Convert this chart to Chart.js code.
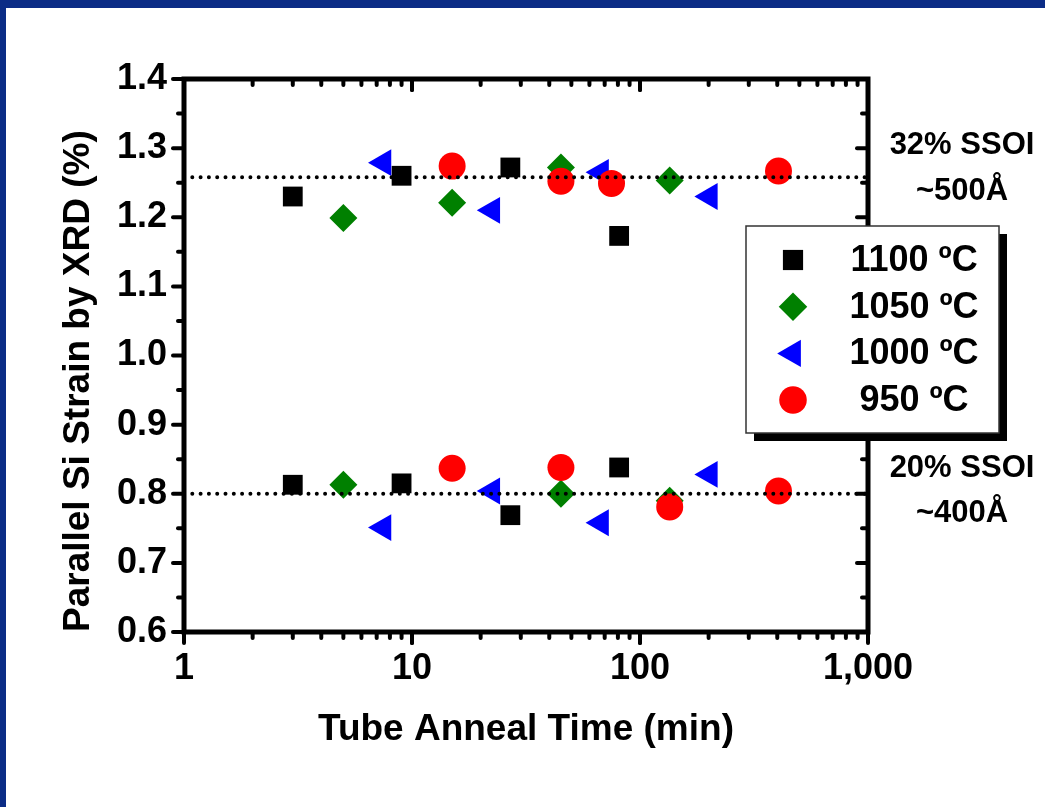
<!DOCTYPE html>
<html>
<head>
<meta charset="utf-8">
<script src="https://cdn.jsdelivr.net/npm/chart.js@4.4.1/dist/chart.umd.min.js"></script>
<style>
  html, body { margin: 0; padding: 0; background: #fff; }
  #wrap { position: relative; width: 1045px; height: 807px; overflow: hidden; background: #fff; }
  #wrap:before { content: ""; position: absolute; left: 0; top: 0; width: 1045px; height: 8px; background: #0b2c86; }
  #wrap:after { content: ""; position: absolute; left: 0; top: 0; width: 6px; height: 807px; background: #0b2c86; }
  canvas { position: absolute; left: 0; top: 0; }
</style>
</head>
<body>
<div id="wrap"><canvas id="chart" width="1045" height="807"></canvas></div>
<script>
/* DATA */
const seriesNames = ["1100 \u00BAC", "1050 \u00BAC", "1000 \u00BAC", "950 \u00BAC"];

const time1100   = [3, 9, 27, 81, 3, 9, 27, 81];
const strain1100 = [1.230, 1.260, 1.272, 1.173, 0.813, 0.815, 0.769, 0.838];

const time1050   = [5, 15, 45, 135, 5, 45, 135];
const strain1050 = [1.199, 1.221, 1.272, 1.253, 0.813, 0.800, 0.790];

const time1000   = [7.5, 22.5, 67.5, 202.5, 7.5, 22.5, 67.5, 202.5];
const strain1000 = [1.279, 1.210, 1.265, 1.230, 0.751, 0.804, 0.758, 0.828];

const time950    = [15, 45, 75, 405, 15, 45, 135, 405];
const strain950  = [1.274, 1.252, 1.249, 1.267, 0.837, 0.838, 0.781, 0.804];

const refStrain = [1.258, 0.80];
const refLabels = [["32% SSOI", "~500\u00C5"], ["20% SSOI", "~400\u00C5"]];

const xTicks = [1, 10, 100, 1000];
const yTicks = [0.6, 0.7, 0.8, 0.9, 1.0, 1.1, 1.2, 1.3, 1.4];

/* STYLE */
const FONT = '"Liberation Sans", Arial, Helvetica, sans-serif';
const markers = [
  { style: "rect",     color: "#000000", r: 14,   rot: 0 },
  { style: "rectRot",  color: "#008000", r: 14,   rot: 0 },
  { style: "triangle", color: "#0000ff", r: 15.5, rot: -90 },
  { style: "circle",   color: "#ff0000", r: 13.5, rot: 0 }
];

function pts(xs, ys){
  return xs.map((x, i) => ({ x: x, y: ys[i] }));
}

const seriesData = [
  pts(time1100, strain1100),
  pts(time1050, strain1050),
  pts(time1000, strain1000),
  pts(time950, strain950)
];

let datasets = [];

// dotted reference lines on top of the markers
refStrain.forEach(function(v){
  datasets.push({
    label: "ref",
    data: [{ x: xTicks[0], y: v }, { x: xTicks[xTicks.length - 1], y: v }],
    showLine: true,
    borderColor: "#000",
    borderWidth: 4,
    borderDash: [0, 8.3],
    borderCapStyle: "round",
    pointRadius: 0,
    order: 0
  });
});

seriesNames.forEach(function(name, i){
  const m = markers[i];
  datasets.push({
    label: name,
    data: seriesData[i],
    showLine: false,
    pointStyle: m.style,
    pointRadius: m.r,
    pointRotation: m.rot,
    pointBackgroundColor: m.color,
    pointBorderColor: m.color,
    pointBorderWidth: 0,
    order: 4 - i
  });
});

/* FRAME, TICKS, LEGEND, NOTES */
function drawMarker(ctx, m, x, y, r){
  ctx.fillStyle = m.color;
  ctx.beginPath();
  if (m.style === "rect") {
    const s = Math.SQRT1_2 * r;
    ctx.rect(x - s, y - s, 2 * s, 2 * s);
  } else if (m.style === "rectRot") {
    ctx.moveTo(x - r, y); ctx.lineTo(x, y - r); ctx.lineTo(x + r, y); ctx.lineTo(x, y + r);
  } else if (m.style === "triangle") {
    ctx.moveTo(x - r, y); ctx.lineTo(x + r / 2, y - r * 0.866); ctx.lineTo(x + r / 2, y + r * 0.866);
  } else {
    ctx.arc(x, y, r, 0, Math.PI * 2);
  }
  ctx.closePath();
  ctx.fill();
}

const framePlugin = {
  id: "frame",
  afterDraw(chart){
    const ctx = chart.ctx;
    const xs = chart.scales.x, ys = chart.scales.y;
    const { left, right, top, bottom } = chart.chartArea;
    ctx.save();
    ctx.strokeStyle = "#000";
    ctx.lineCap = "round";
    ctx.lineWidth = 4;

    function tick(x1, y1, x2, y2){
      ctx.beginPath(); ctx.moveTo(x1, y1); ctx.lineTo(x2, y2); ctx.stroke();
    }

    // log x ticks, out at bottom, in at top
    for (let d = 1; d < 1000; d *= 10) {
      for (let k = 1; k <= 10; k++) {
        const px = xs.getPixelForValue(k * d);
        const L = (k === 1 || k === 10) ? 11 : 6;
        tick(px, bottom, px, bottom + L);
        tick(px, top, px, top + L);
      }
    }
    // y ticks every 0.05, out at left, in at right
    for (let i = 0; i <= 16; i++) {
      const py = ys.getPixelForValue(0.6 + 0.05 * i);
      const L = i % 2 === 0 ? 11 : 6;
      tick(left, py, left - L, py);
      tick(right, py, right - L, py);
    }

    ctx.lineCap = "butt";
    ctx.lineWidth = 5;
    ctx.strokeRect(left, top, right - left, bottom - top);

    // legend box with shadow
    const bx = 746, by = 226, bw = 253, bh = 207;
    ctx.fillStyle = "#000";
    ctx.fillRect(bx + 8, by + 8, bw, bh);
    ctx.fillStyle = "#fff";
    ctx.fillRect(bx, by, bw, bh);
    ctx.strokeStyle = "#333";
    ctx.lineWidth = 1.5;
    ctx.strokeRect(bx, by, bw, bh);

    ctx.font = "bold 36px " + FONT;
    ctx.textAlign = "center";
    ctx.textBaseline = "middle";
    seriesNames.forEach(function(name, i){
      const ry = 260 + i * 46.7;
      drawMarker(ctx, markers[i], 793, ry, markers[i].r * 1.02);
      ctx.fillStyle = "#000";
      ctx.fillText(name, 914, ry + 1);
    });

    // notes at right of the dotted lines
    ctx.font = "bold 31px " + FONT;
    ctx.fillStyle = "#000";
    const noteY = [[145, 191], [468, 513]];
    refLabels.forEach(function(pair, i){
      ctx.fillText(pair[0], 962, noteY[i][0]);
      ctx.fillText(pair[1], 962, noteY[i][1]);
    });
    ctx.restore();
  }
};

/* CHART */
const chart = new Chart(document.getElementById("chart"), {
  type: "scatter",
  data: { datasets: datasets },
  options: {
    responsive: false,
    animation: false,
    devicePixelRatio: 1,
    events: [],
    layout: { padding: { left: 0, top: 79, right: 177, bottom: 0 } },
    plugins: { legend: { display: false }, tooltip: { enabled: false } },
    scales: {
      x: {
        type: "logarithmic",
        min: 1,
        max: 1000,
        afterFit: function(s){ s.height = 175; },
        afterBuildTicks: function(s){ s.ticks = xTicks.map(v => ({ value: v })); },
        grid: { display: false, drawTicks: false },
        border: { display: false },
        ticks: {
          padding: 15,
          color: "#000",
          autoSkip: false,
          maxRotation: 0,
          font: { family: FONT, size: 36, weight: "bold" },
          callback: function(v){ return Number(v).toLocaleString("en-US"); }
        },
        title: {
          display: true,
          text: "Tube Anneal Time (min)",
          color: "#000",
          font: { family: FONT, size: 37, weight: "bold" },
          padding: { top: 0, bottom: 55 }
        }
      },
      y: {
        min: 0.6,
        max: 1.4,
        afterFit: function(s){ s.width = 184; },
        afterBuildTicks: function(s){ s.ticks = yTicks.map(v => ({ value: v })); },
        grid: { display: false, drawTicks: false },
        border: { display: false },
        ticks: {
          padding: 17,
          color: "#000",
          font: { family: FONT, size: 36, weight: "bold" },
          callback: function(v){ return Number(v).toFixed(1); }
        },
        title: {
          display: true,
          align: "start",
          text: "Parallel Si Strain by XRD (%)",
          color: "#000",
          font: { family: FONT, size: 37, weight: "bold" },
          padding: { top: 57, bottom: 0 }
        }
      }
    }
  },
  plugins: [framePlugin]
});
</script>
</body>
</html>
